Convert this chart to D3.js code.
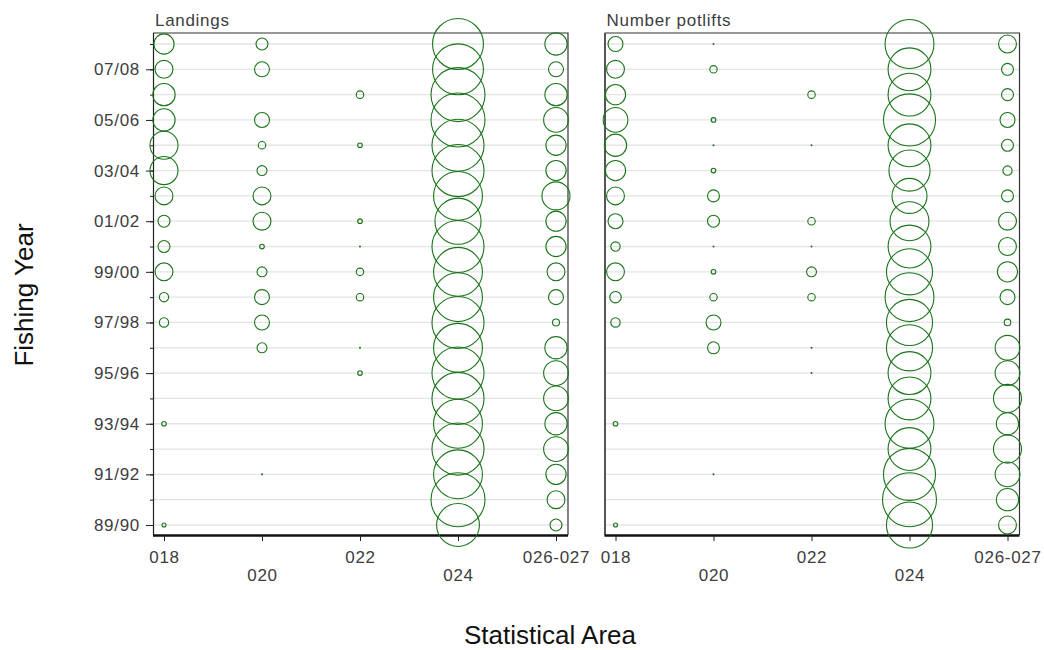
<!DOCTYPE html>
<html>
<head>
<meta charset="utf-8">
<script src="https://cdn.jsdelivr.net/npm/d3@7"></script>
<style>
  html, body { margin: 0; background: #fff; }
  text { font-family: "Liberation Sans", Arial, sans-serif; }
  .lab { fill: #3d3d3d; font-size: 17px; letter-spacing: 0.7px; }
  .axis-title { fill: #111; font-size: 26px; }
</style>
</head>
<body>
<div id="plot"></div>
<script>
// fishing years, top row first
const years = ["08/09", "07/08", "06/07", "05/06", "04/05", "03/04", "02/03", "01/02", "00/01", "99/00",
  "98/99", "97/98", "96/97", "95/96", "94/95", "93/94", "92/93", "91/92", "90/91", "89/90"];
const yearLabels = ["07/08", "05/06", "03/04", "01/02", "99/00", "97/98", "95/96", "93/94", "91/92", "89/90"];
const areas = ["018", "020", "022", "024", "026-027"];

// relative values (bubble area, largest = 100). null = no bubble
const landings018 = [14, 11, 17, 17, 27, 27, 11, 4.9, 4.9, 11, 3, 3, null, null, null, 0.73, null, null, null, 0.55];
const landings020 = [4.9, 7.7, null, 7.7, 1.9, 3.4, 11, 11, 0.73, 3.4, 7.7, 7.7, 3.4, null, null, null, null, 0.03, null, null];
const landings022 = [null, null, 1.9, null, 0.73, null, null, 0.73, 0.03, 1.9, 1.9, null, 0.03, 0.73, null, null, null, null, null, null];
const landings024 = [89, 89, 100, 100, 93, 93, 82, 73, 93, 82, 82, 93, 82, 93, 93, 82, 93, 82, 100, 63];
const landings026 = [17, 7.7, 17, 21, 14, 14, 27, 14, 14, 11, 7.7, 1.7, 17, 21, 21, 17, 21, 14, 11, 4.9];

const potlifts018 = [7.7, 11, 14, 21, 17, 14, 11, 7.7, 3, 11, 4.5, 3, null, null, null, 0.73, null, null, null, 0.55];
const potlifts020 = [0.03, 1.9, null, 0.73, 0.03, 0.73, 4.9, 4.9, 0.03, 0.73, 1.9, 7.7, 4.9, null, null, null, null, 0.03, null, null];
const potlifts022 = [null, null, 1.9, null, 0.03, null, null, 1.9, 0.03, 3.4, 1.9, null, 0.03, 0.03, null, null, null, null, null, null];
const potlifts024 = [82, 63, 63, 93, 63, 58, 42, 52, 63, 73, 82, 73, 73, 63, 63, 82, 63, 93, 100, 73];
const potlifts026 = [11, 4.9, 4.9, 7.7, 4.9, 3, 4.9, 11, 11, 14, 7.7, 1.5, 21, 21, 27, 17, 27, 21, 17, 11];

const panels = [
  { title: "Landings", left: 153, series: [landings018, landings020, landings022, landings024, landings026] },
  { title: "Number potlifts", left: 604.5, series: [potlifts018, potlifts020, potlifts022, potlifts024, potlifts026] }
];

const width = 1044, height = 650;
const panelW = 415, panelTop = 33, panelH = 502;

const svg = d3.select("#plot").append("svg")
    .attr("width", width)
    .attr("height", height)
    .style("display", "block");

const x = d3.scalePoint().domain(areas).range([11, 403]);
const y = d3.scalePoint().domain(years).range([11, 492]);
const r = d3.scaleSqrt().domain([0, 100]).range([0, 27]);

panels.forEach((p, pi) => {
  const g = svg.append("g").attr("transform", `translate(${p.left},${panelTop})`);

  // grid lines
  g.append("g").selectAll("line")
    .data(years)
    .join("line")
      .attr("x1", 0)
      .attr("x2", panelW)
      .attr("y1", d => y(d))
      .attr("y2", d => y(d))
      .attr("stroke", "#e4e4e4")
      .attr("stroke-width", 1.3);

  // frame top and right
  g.append("path")
    .attr("d", `M0,0H${panelW}V${panelH}`)
    .attr("fill", "none")
    .attr("stroke", "#333")
    .attr("stroke-width", 1.2);

  // left axis: short ticks on every year, long ticks with labels on every other year
  const minor = g.append("g").call(d3.axisLeft(y).tickValues(years).tickSize(pi === 0 ? 3 : 0).tickFormat(""));
  const major = g.append("g").call(d3.axisLeft(y).tickValues(yearLabels).tickSize(pi === 0 ? 7 : 0)
    .tickFormat(d => pi === 0 ? d : ""));
  minor.select(".domain").remove();
  major.select(".domain").attr("d", `M0.5,0V${panelH}`).attr("stroke", pi === 0 ? "#222" : "#555")
    .attr("stroke-width", pi === 0 ? 1.2 : 2);
  major.selectAll(".tick line").attr("stroke", "#222");
  minor.selectAll(".tick line").attr("stroke", "#222");
  major.selectAll(".tick text").attr("class", "lab").attr("dx", -3);
  major.attr("font-size", null).attr("font-family", null);

  // bottom axis, labels staggered
  const bottom = g.append("g")
    .attr("transform", `translate(0,${panelH})`)
    .call(d3.axisBottom(x).tickSize(6).tickPadding(8));
  bottom.attr("font-size", null).attr("font-family", null);
  bottom.select(".domain").attr("d", `M0,0.5H${panelW}`).attr("stroke", "#111").attr("stroke-width", 2.4);
  bottom.selectAll(".tick line").attr("stroke", "#222");
  bottom.selectAll(".tick text")
    .attr("class", "lab")
    .attr("y", (d, i) => i % 2 ? 34 : 16);

  // bubbles, one group per area
  p.series.forEach((vals, ai) => {
    g.append("g").selectAll("circle")
      .data(vals.map((v, i) => ({ year: years[i], v })).filter(d => d.v !== null))
      .join("circle")
        .attr("cx", x(areas[ai]))
        .attr("cy", d => y(d.year))
        .attr("r", d => r(d.v))
        .attr("fill", "none")
        .attr("stroke", "#1a751a")
        .attr("stroke-width", 1.1);
  });

  g.append("text")
    .attr("class", "lab")
    .attr("x", 2)
    .attr("y", -7)
    .text(p.title);
});

// axis titles
svg.append("text")
    .attr("class", "axis-title")
    .attr("transform", "translate(33,295) rotate(-90)")
    .attr("text-anchor", "middle")
    .text("Fishing Year");

svg.append("text")
    .attr("class", "axis-title")
    .attr("x", 550)
    .attr("y", 644)
    .attr("text-anchor", "middle")
    .text("Statistical Area");
</script>
</body>
</html>
